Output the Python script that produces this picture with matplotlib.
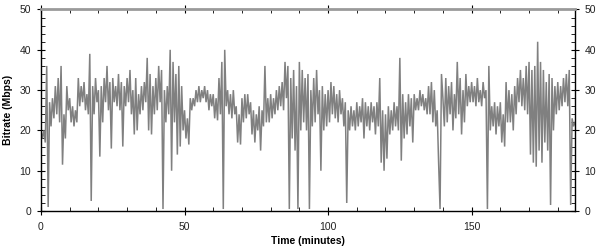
import numpy as np
import matplotlib as mpl
mpl.use("Agg")
import matplotlib.pyplot as plt
from matplotlib.ticker import MultipleLocator

# bitrate samples (Mbps), one every half minute
BITRATE = [
    20, 18, 20, 17, 36, 1, 27, 21, 28, 23, 31, 24, 33, 22, 36, 11.5, 24, 18, 31, 25,
    28, 22, 26, 21, 25, 22, 33, 26, 31, 27, 32, 25, 29, 24, 39, 2.5, 31, 24, 33, 27,
    30, 13.5, 31, 22, 33, 27, 36, 25, 32, 15.5, 33, 27, 31, 26, 34, 25, 32, 16, 31, 26,
    33, 27, 35, 24, 30, 19, 33, 20, 29, 24, 31, 25, 32, 27, 38, 20, 34, 19, 31, 24,
    33, 25, 36, 27, 35, 0.5, 30, 22, 31, 24, 40, 10, 37, 22, 34, 14, 36, 16, 31, 20,
    25, 18, 23, 16.5, 28, 25, 28, 26, 30, 27, 31, 27, 30, 28, 31, 27, 30, 25, 29, 26,
    29, 23, 28, 22.5, 33, 24, 37, 0.5, 40, 26, 30, 24, 29, 23, 30, 24, 26, 17, 24, 16.5,
    28, 22, 29, 23, 29, 24, 27, 19, 25, 17, 24, 20, 26, 15, 25, 21, 36, 22, 28, 22,
    29, 23, 28, 24, 30, 25, 31, 26, 32, 25, 37, 28, 36, 0.5, 33, 18, 35, 15, 31, 0.5,
    37, 20, 35, 22, 33, 20, 34, 0.5, 30, 21, 33, 22, 35, 24, 30, 10, 31, 20, 29, 21,
    30, 22, 32, 24, 31, 23, 29, 22, 30, 24, 28, 21, 27, 2, 25, 20, 26, 21, 25, 20,
    27, 21, 26, 22, 28, 18, 27, 21, 26, 20, 27, 22, 26, 19, 27, 21, 33, 12, 25, 10,
    24, 13, 26, 19, 25, 20, 27, 21, 26, 20, 38, 12.5, 29, 18, 27, 19, 29, 21, 28, 17,
    29, 25, 28, 25, 30, 26, 29, 25, 28, 24, 31, 24, 32, 22, 30, 21, 25, 12, 0.5, 34,
    28, 21, 33, 22, 31, 24, 32, 20, 29, 23, 37, 24, 33, 19, 30, 22, 34, 26, 31, 27,
    32, 27, 31, 26, 33, 27, 30, 26, 32, 28, 30, 0.5, 36, 20, 26, 21, 27, 19, 26, 21,
    27, 17, 24, 16, 32, 22, 30, 22, 29, 20, 31, 24, 33, 27, 35, 26, 33, 25, 36, 24,
    37, 14, 35, 12, 36, 11, 42, 15, 37, 12, 35, 17, 32, 15, 34, 1.5, 33, 20, 31, 24,
    32, 25, 31, 26, 33, 27, 34, 26, 35, 1.5, 23, 21, 22,
]
STEP_MIN = 0.5
X_MAX = 186
Y_MAX = 50

plt.rcParams["font.family"] = ["Liberation Sans", "DejaVu Sans"]

minutes = np.arange(len(BITRATE)) * STEP_MIN

fig = plt.figure(figsize=(6.0, 2.48), dpi=100)
ax = fig.add_axes([0.0683, 0.149, 0.89, 0.8127])

ax.plot(minutes, BITRATE, color="#808080", lw=1.1, solid_joinstyle="miter")

ax.set_xlim(0, X_MAX)
ax.set_ylim(0, Y_MAX)

ax.xaxis.set_major_locator(MultipleLocator(50))
ax.xaxis.set_minor_locator(MultipleLocator(10))
ax.yaxis.set_major_locator(MultipleLocator(10))
ax.yaxis.set_minor_locator(MultipleLocator(2))

ax.tick_params(which="major", direction="inout", length=6, width=0.8,
               labelsize=7.5, labelcolor="#222222", pad=4,
               top=True, right=True, labelright=True)
ax.tick_params(which="minor", direction="in", length=3, width=0.6,
               top=True, right=True)
ax.tick_params(axis="x", pad=5)

for side in ("left", "right", "bottom"):
    ax.spines[side].set_color("black")
    ax.spines[side].set_linewidth(1.0)
ax.spines["top"].set_color("#9a9a9a")
ax.spines["top"].set_linewidth(2.0)

ax.set_xlabel("Time (minutes)", fontsize=7.5, fontweight="bold", labelpad=3)
ax.set_ylabel("Bitrate (Mbps)", fontsize=7.5, fontweight="bold", labelpad=5)

fig.savefig("out.png", dpi=100)
